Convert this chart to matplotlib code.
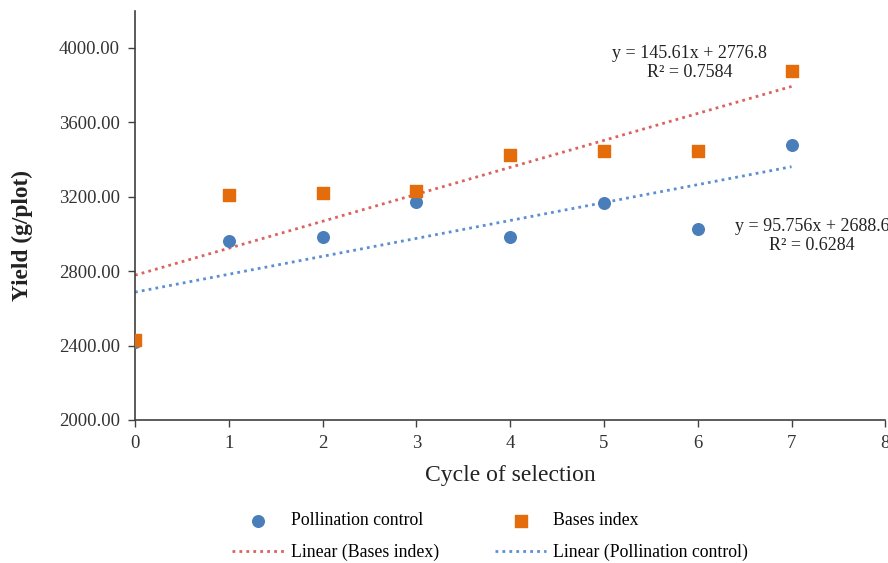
import numpy as np
import matplotlib
matplotlib.use("Agg")
import matplotlib.pyplot as plt
from matplotlib.ticker import FormatStrFormatter

# data
cycles = [0, 1, 2, 3, 4, 5, 6, 7]
pollination_control = [2420, 2962, 2984, 3172, 2984, 3167, 3027, 3478]
bases_index = [2430, 3210, 3220, 3231, 3425, 3446, 3446, 3876]
eq_bases = "y = 145.61x + 2776.8\nR² = 0.7584"
eq_poll = "y = 95.756x + 2688.6\nR² = 0.6284"

plt.rcParams["font.family"] = ["Liberation Serif", "DejaVu Serif"]

blue = "#4A7EBB"
orange = "#E46C0A"
red_line = "#D9645F"
blue_line = "#5B8FD0"
grey = "#404040"

fig = plt.figure(figsize=(8.88, 5.63), dpi=100)
ax = fig.add_axes([0.152, 0.254, 0.845, 0.727])

ax.scatter(cycles, pollination_control, marker="o", s=70, color=blue,
           zorder=3, label="Pollination control")
ax.scatter(cycles, bases_index, marker="s", s=75, color=orange,
           zorder=4, label="Bases index")

# linear trend lines
x = np.array(cycles)
kb = np.polyfit(x, bases_index, 1)
kp = np.polyfit(x, pollination_control, 1)
ax.plot(x, np.polyval(kb, x), linestyle=(0, (1, 1.5)), color=red_line,
        lw=2, zorder=2, label="Linear (Bases index)")
ax.plot(x, np.polyval(kp, x), linestyle=(0, (1, 1.5)), color=blue_line,
        lw=2, zorder=2, label="Linear (Pollination control)")

ax.text(5.91, 3920, eq_bases, ha="center", va="center", fontsize=13,
        color="#222222", linespacing=1.15)
ax.text(7.22, 2990, eq_poll, ha="center", va="center", fontsize=13,
        color="#222222", linespacing=1.15, clip_on=False)

ax.set_xlim(0, 8)
ax.set_ylim(2000, 4200)
ax.set_xticks(range(0, 9))
ax.set_yticks(np.arange(2000, 4001, 400))
ax.yaxis.set_major_formatter(FormatStrFormatter("%.2f"))
ax.tick_params(direction="out", length=5, width=1, colors=grey,
               labelsize=13.5, labelcolor="#333333", pad=6)
for side in ["top", "right"]:
    ax.spines[side].set_visible(False)
for side in ["left", "bottom"]:
    ax.spines[side].set_color(grey)
    ax.spines[side].set_linewidth(1.2)

ax.set_xlabel("Cycle of selection", fontsize=17, color="#222222")
ax.xaxis.set_label_coords(0.5, -0.11)
ax.set_ylabel("Yield (g/plot)", fontsize=16.8, fontweight="bold",
              color="#222222")
ax.yaxis.set_label_coords(-0.136, 0.45)

h, l = ax.get_legend_handles_labels()
order = [0, 2, 1, 3]
fig.legend([h[i] for i in order], [l[i] for i in order], ncol=2,
           loc="center", bbox_to_anchor=(0.552, 0.047), frameon=False,
           fontsize=12.8, handlelength=2.9, handletextpad=0.4,
           columnspacing=3.15, labelspacing=0.8, scatterpoints=1)

fig.savefig("out.png", dpi=100)
